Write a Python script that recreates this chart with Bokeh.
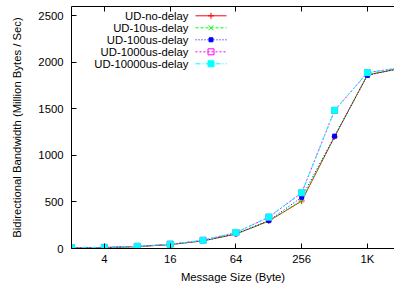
from bokeh.plotting import figure
from bokeh.models import (Range1d, LogAxis, FixedTicker, Label, Arrow,
                          BoxAnnotation)
from bokeh.embed import file_html
from bokeh.resources import INLINE

# ---- data ----
sizes = [2, 4, 8, 16, 32, 64, 128, 256, 512, 1024, 2048]
ud_no_delay = [5, 10, 20, 42, 82, 155, 295, 510, 1200, 1865, 1935]
ud_10us = [5, 10, 20, 42, 82, 156, 297, 515, 1203, 1868, 1935]
ud_100us = [5, 10, 21, 43, 84, 158, 300, 550, 1207, 1860, 1935]
ud_1000us = [8, 12, 23, 46, 88, 172, 336, 598, 1483, 1889, 1943]
ud_10000us = [8, 12, 23, 46, 88, 172, 338, 600, 1485, 1890, 1943]
series_names = ["UD-no-delay", "UD-10us-delay", "UD-100us-delay",
                "UD-1000us-delay", "UD-10000us-delay"]
x_ticks = [4, 16, 64, 256, 1024]
x_tick_labels = ["4", "16", "64", "256", "1K"]
y_ticks = [0, 500, 1000, 1500, 2000, 2500]

FONT = "Liberation Sans"
FS = "11.3px"

p = figure(width=394, height=290, x_axis_type="log",
           x_range=Range1d(2, 1810), y_range=Range1d(0, 2600),
           output_backend="svg", toolbar_location=None,
           min_border_left=71, min_border_right=0, min_border_top=6,
           min_border_bottom=42)
p.xgrid.visible = False
p.ygrid.visible = False
p.outline_line_color = None
p.background_fill_color = "white"

# bottom axis
xa = p.xaxis[0]
xa.ticker = FixedTicker(ticks=x_ticks, minor_ticks=[])
xa.major_label_overrides = {t: l for t, l in zip(x_ticks, x_tick_labels)}
xa.major_label_standoff = 4
xa.axis_label = "Message Size (Byte)"
xa.axis_label_standoff = 3

# left axis
ya = p.yaxis[0]
ya.ticker = FixedTicker(ticks=y_ticks, minor_ticks=[])
ya.major_label_standoff = 8
ya.axis_label = "Bidirectional Bandwidth (Million Bytes / Sec)"
ya.axis_label_standoff = 12

for ax in [xa, ya]:
    ax.major_tick_in = 5
    ax.major_tick_out = 0
    ax.minor_tick_line_color = None
    ax.axis_line_color = "black"
    ax.major_tick_line_color = "black"
    ax.major_label_text_font = FONT
    ax.major_label_text_font_size = FS
    ax.major_label_text_color = "black"
    ax.axis_label_text_font = FONT
    ax.axis_label_text_font_size = FS
    ax.axis_label_text_font_style = "normal"
    ax.axis_label_text_color = "black"

# top mirror border: only (unlabelled) minor ticks at the x tick positions
top = LogAxis(ticker=FixedTicker(ticks=[], minor_ticks=x_ticks),
              major_tick_line_color=None,
              minor_tick_in=5, minor_tick_out=0,
              minor_tick_line_color="black", axis_line_color="black")
p.add_layout(top, "above")

styles = [
    dict(color="#ff0000", dash="solid", marker="cross", size=6, fill=True),
    dict(color="#00ff00", dash="3 2", marker="x", size=5, fill=True),
    dict(color="#0000ff", dash="1 2", marker="square", size=4, fill=True),
    dict(color="#ff00ff", dash="2 2", marker="square", size=6, fill=False),
    dict(color="#00ffff", dash="5 2 1 2", marker="square", size=6, fill=True),
]
data = [ud_no_delay, ud_10us, ud_100us, ud_1000us, ud_10000us]

for name, vals, st in zip(series_names, data, styles):
    p.line(sizes, vals, line_color=st["color"], line_width=1,
           line_dash=st["dash"])
    p.scatter(sizes, vals, marker=st["marker"], size=st["size"],
              line_color=st["color"], line_width=1,
              fill_color=st["color"] if st["fill"] else None)

# ---- gnuplot-style key (screen units, relative to the plot frame) ----
KEY_TEXT_X = 117      # right edge of key text
KEY_X0, KEY_X1 = 124, 155
KEY_Y0, KEY_DY = 232.7, 12
SU = dict(start_units="screen", end_units="screen")


def seg(x0, y0, x1, y1, color, dash="solid"):
    p.add_layout(Arrow(end=None, start=None, x_start=x0, y_start=y0,
                       x_end=x1, y_end=y1, line_color=color,
                       line_dash=dash, line_width=1, **SU))


for i, (name, st) in enumerate(zip(series_names, styles)):
    yc = KEY_Y0 - KEY_DY * i
    p.add_layout(Label(x=KEY_TEXT_X, y=yc, x_units="screen",
                       y_units="screen", text=name, text_align="right",
                       text_baseline="middle", text_font=FONT,
                       text_font_size=FS, text_color="black"))
    seg(KEY_X0, yc, KEY_X1, yc, st["color"], st["dash"])
    xc = (KEY_X0 + KEY_X1) / 2
    h = st["size"] / 2
    if st["marker"] == "cross":
        seg(xc - h, yc, xc + h, yc, st["color"])
        seg(xc, yc - h, xc, yc + h, st["color"])
    elif st["marker"] == "x":
        seg(xc - h, yc - h, xc + h, yc + h, st["color"])
        seg(xc - h, yc + h, xc + h, yc - h, st["color"])
    else:
        p.add_layout(BoxAnnotation(
            left=xc - h, right=xc + h, bottom=yc - h, top=yc + h,
            left_units="screen", right_units="screen",
            bottom_units="screen", top_units="screen",
            fill_color=st["color"] if st["fill"] else None,
            fill_alpha=1.0, line_color=st["color"], line_width=1,
            line_alpha=1.0))

open("out.html", "w").write(file_html(p, INLINE))
